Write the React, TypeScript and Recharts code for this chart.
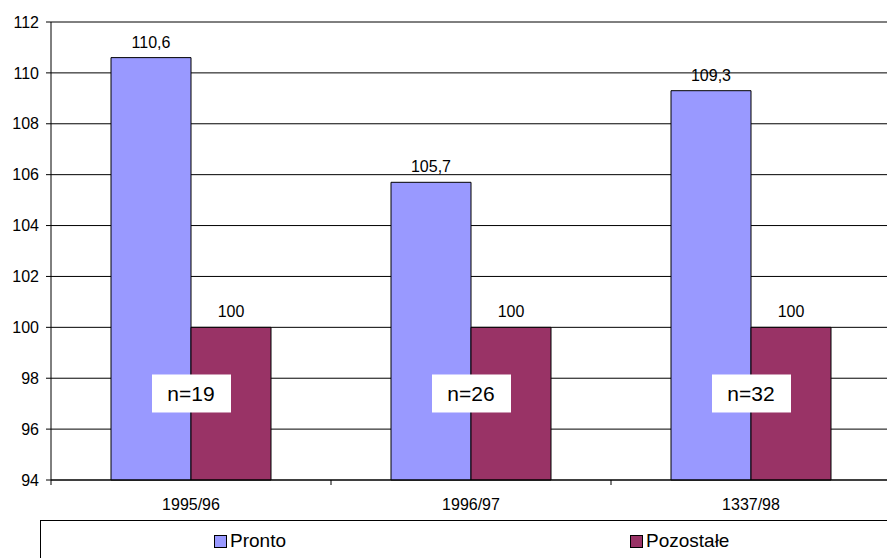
import React from 'react';
import {
  BarChart,
  Bar,
  XAxis,
  YAxis,
  CartesianGrid,
  Legend,
  LabelList,
  ReferenceDot,
} from 'recharts';

const categories = ['1995/96', '1996/97', '1337/98'];
const prontoValues = [110.6, 105.7, 109.3];
const otherValues = [100, 100, 100];
const sampleLabels = ['n=19', 'n=26', 'n=32'];
const sampleLevel = 97.4;
const yTicks = [94, 96, 98, 100, 102, 104, 106, 108, 110, 112];
const seriesNames = ['Pronto', 'Pozostałe'];

const data = categories.map((season, i) => ({
  season,
  pronto: prontoValues[i],
  other: otherValues[i],
}));

const FONT = 'Arial, "Liberation Sans", sans-serif';
const fmt = (v: number) => String(v).replace('.', ',');

// label centred in the category, tick line drawn on the category's left edge
const SeasonTick = (props: any) => {
  const { x, y, payload } = props;
  const half = payload.offset ?? 140;
  const axisY = y - 5;
  return (
    <g>
      <line x1={x - half} x2={x - half} y1={axisY} y2={axisY + 5} stroke="#000" />
      <text x={x} y={axisY + 30} textAnchor="middle" fontSize={16} fontFamily={FONT} fill="#000">
        {payload.value}
      </text>
    </g>
  );
};

const SampleBox = (text: string) => (props: any) => {
  const { cx, cy } = props;
  return (
    <g>
      <rect x={cx - 39} y={cy - 19} width={79} height={38} fill="#fff" />
      <text x={cx} y={cy + 8} textAnchor="middle" fontSize={21} fontFamily={FONT} fill="#000">
        {text}
      </text>
    </g>
  );
};

const legendLeft = [173, 589];

const LegendBox = (props: any) => {
  const { payload = [] } = props;
  return (
    <div
      style={{
        position: 'relative',
        height: 38,
        width: 900,
        borderLeft: '1.5px solid #000',
        borderTop: '1.5px solid #000',
        fontFamily: FONT,
        fontSize: 19,
        color: '#000',
      }}
    >
      {payload.map((entry: any) => (
        <div
          key={entry.value}
          style={{
            position: 'absolute',
            left: legendLeft[Math.max(0, seriesNames.indexOf(entry.value))],
            top: 9,
            display: 'flex',
            alignItems: 'center',
            lineHeight: '22px',
          }}
        >
          <span
            style={{
              display: 'inline-block',
              width: 11,
              height: 11,
              background: entry.color,
              border: '1px solid #000',
              marginRight: 3,
            }}
          />
          {entry.value}
        </div>
      ))}
    </div>
  );
};

export default function App() {
  return (
    <div style={{ position: 'absolute', left: 0, top: 0, width: 887, height: 558, overflow: 'hidden', background: '#fff' }}>
      <BarChart
        width={891}
        height={558}
        data={data}
        margin={{ top: 22, right: 0, bottom: 0, left: 0 }}
        barCategoryGap={60}
        barGap={0}
      >
        <CartesianGrid vertical={false} stroke="#000" />
        <XAxis
          dataKey="season"
          height={40}
          tickLine={false}
          tickSize={5}
          tickMargin={0}
          axisLine={{ stroke: '#000' }}
          tick={<SeasonTick />}
        />
        <YAxis
          width={51}
          domain={[94, 112]}
          ticks={yTicks}
          interval={0}
          tickSize={5}
          tickMargin={7}
          axisLine={{ stroke: '#000' }}
          tickLine={{ stroke: '#000' }}
          tick={{ fill: '#000', fontSize: 16, fontFamily: FONT }}
        />
        <Legend verticalAlign="bottom" content={<LegendBox />} wrapperStyle={{ left: 40, width: 900, height: 38 }} />
        <Bar dataKey="pronto" name={seriesNames[0]} fill="#9999FF" stroke="#000" strokeWidth={1} isAnimationActive={false}>
          <LabelList dataKey="pronto" position="top" offset={10} formatter={fmt} fill="#000" fontSize={16} fontFamily={FONT} />
        </Bar>
        <Bar dataKey="other" name={seriesNames[1]} fill="#993366" stroke="#000" strokeWidth={1} isAnimationActive={false}>
          <LabelList dataKey="other" position="top" offset={10} formatter={fmt} fill="#000" fontSize={16} fontFamily={FONT} />
        </Bar>
        {categories.map((season, i) => (
          <ReferenceDot key={season} x={season} y={sampleLevel} r={0} shape={SampleBox(sampleLabels[i])} />
        ))}
      </BarChart>
    </div>
  );
}
